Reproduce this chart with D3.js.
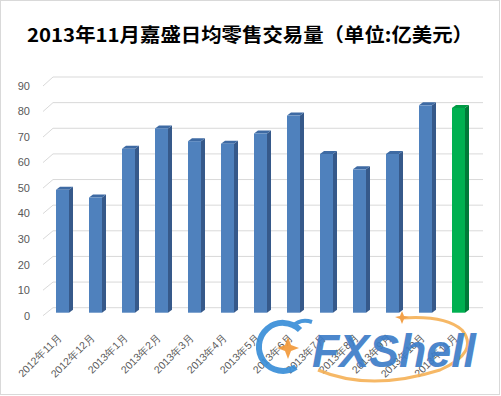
<!DOCTYPE html>
<html><head><meta charset="utf-8">
<script src="https://cdn.jsdelivr.net/npm/d3@7/dist/d3.min.js"></script>
<style>body{margin:0;background:#fff}svg{display:block}</style>
</head><body>
<svg id="c" width="501" height="396"></svg>
<script>
const title = "2013年11月嘉盛日均零售交易量（单位:亿美元）";
const categories = ["2012年11月","2012年12月","2013年1月","2013年2月","2013年3月","2013年4月","2013年5月","2013年6月","2013年7月","2013年8月","2013年9月","2013年10月","2013年11月"];
const values = [48,45,64,72,67,66,70,77,62,56,62,81,80];
const yTicks = [0,10,20,30,40,50,60,70,80,90];

const svg = d3.select("#c");
svg.append("rect").attr("x",0.5).attr("y",0.5).attr("width",499).attr("height",394)
  .attr("fill","#fff").attr("stroke","#d9d9d9");

svg.append("text").attr("x",250).attr("y",42).attr("text-anchor","middle")
  .attr("font-family","'Noto Sans CJK SC', sans-serif").attr("font-weight","bold")
  .attr("font-size",19).attr("textLength",446).attr("lengthAdjust","spacingAndGlyphs")
  .attr("fill","#000").text(title);

const x = d3.scaleBand().domain(categories).range([46,475]).padding(0);
const yFront = d3.scaleLinear().domain([0,90]).range([315.7,86]);
const yBack = d3.scaleLinear().domain([0,90]).range([307.7,77]);
const yBar = d3.scaleLinear().domain([0,90]).range([312.7,82.3]);

// gridlines
const g = svg.append("g");
yTicks.forEach(t=>{
  g.append("path").attr("d",`M43,${yFront(t)}L53,${yBack(t)}L483,${yBack(t)}`)
   .attr("fill","none").attr("stroke","#d9d9d9").attr("stroke-width",1);
  svg.append("text").attr("x",30).attr("y",yFront(t)).attr("dy","0.35em")
   .attr("text-anchor","end").attr("font-family","'Liberation Sans', Arial, sans-serif")
   .attr("font-size",11).attr("fill","#595959").text(t);
});

// bars
const bw = 13, dx = 4, dy = 3;
const bars = svg.append("g");
categories.forEach((c,i)=>{
  const v = values[i];
  const last = i === categories.length-1;
  const cf = last ? "#00b050" : "#4f81bd";
  const cs = last ? "#007a38" : "#36598a";
  const ct = last ? "#009a45" : "#3e6aa3";
  const x0 = x(c) + x.bandwidth()/2 - bw/2;
  const yt = yBar(v), yb = yBar(0);
  bars.append("path").attr("d",`M${x0+bw},${yt}L${x0+bw+dx},${yt-dy}L${x0+bw+dx},${yb-dy}L${x0+bw},${yb}Z`).attr("fill",cs);
  bars.append("path").attr("d",`M${x0},${yt}L${x0+dx},${yt-dy}L${x0+bw+dx},${yt-dy}L${x0+bw},${yt}Z`).attr("fill",ct);
  bars.append("rect").attr("x",x0).attr("y",yt).attr("width",bw).attr("height",yb-yt).attr("fill",cf);
});

// x labels
categories.forEach(c=>{
  const cx = x(c) + x.bandwidth()/2;
  svg.append("text").attr("transform",`translate(${cx},338) rotate(-45)`)
   .attr("text-anchor","end").attr("font-family","'Liberation Sans', Arial, sans-serif")
   .attr("font-size",10.5).attr("fill","#595959").text(c);
});

// watermark logo (approximate)
const wm = svg.append("g").attr("opacity",0.92);
wm.append("path").attr("d","M300,330 A24,24 0 1 0 296,367").attr("fill","none").attr("stroke","#3a8fd8").attr("stroke-width",6);
wm.append("path").attr("d","M292,327 Q300,318 312,322").attr("fill","none").attr("stroke","#3a8fd8").attr("stroke-width",4);
wm.append("path").attr("d","M288,337 L291,345 L299,348 L291,351 L288,359 L285,351 L277,348 L285,345Z").attr("fill","#f39a3a");
wm.append("path").attr("d","M318,370 Q370,392 440,370 Q480,352 462,330 Q445,315 402,318").attr("fill","none").attr("stroke","#f6b35a").attr("stroke-width",3);
wm.append("path").attr("d","M402,311 L404,316 L409,317 L404,319 L402,324 L400,319 L395,317 L400,316Z").attr("fill","#f39a3a");
wm.append("text").attr("x",312).attr("y",367).attr("font-family","'Liberation Sans', Arial, sans-serif")
  .attr("font-weight","bold").attr("font-style","italic").attr("font-size",46)
  .attr("textLength",164).attr("lengthAdjust","spacingAndGlyphs").attr("fill","#3d7dc8").text("FXShell");
</script>
</body></html>
